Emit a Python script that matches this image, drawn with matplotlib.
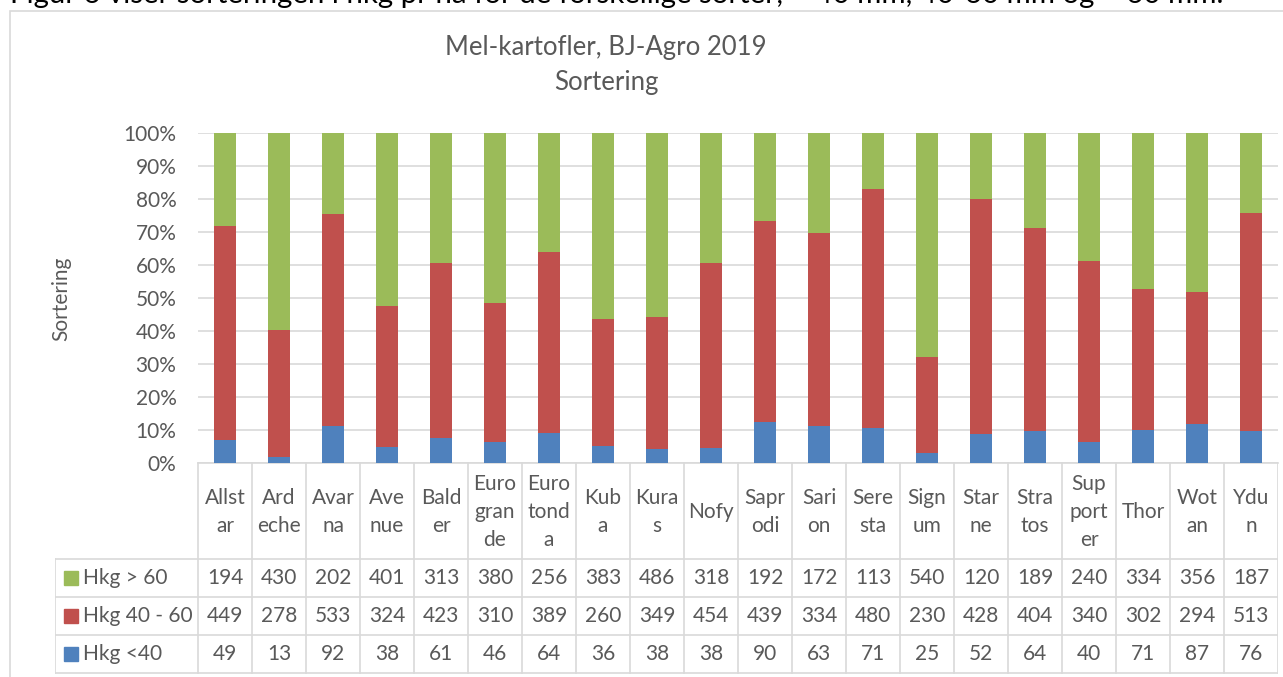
import numpy as np
import matplotlib
matplotlib.use("Agg")
import matplotlib.pyplot as plt
from matplotlib.patches import Rectangle
from matplotlib.lines import Line2D
from matplotlib.ticker import PercentFormatter

plt.rcParams['font.family'] = ['Lato', 'DejaVu Sans']

# ---- data ----
labels = ["Allst\nar", "Ard\neche", "Avar\nna", "Ave\nnue", "Bald\ner", "Euro\ngran\nde",
          "Euro\ntond\na", "Kub\na", "Kura\ns", "Nofy", "Sapr\nodi", "Sari\non", "Sere\nsta",
          "Sign\num", "Star\nne", "Stra\ntos", "Sup\nport\ner", "Thor", "Wot\nan", "Ydu\nn"]
hkg_gt60 = [194, 430, 202, 401, 313, 380, 256, 383, 486, 318, 192, 172, 113, 540, 120, 189, 240, 334, 356, 187]
hkg_40_60 = [449, 278, 533, 324, 423, 310, 389, 260, 349, 454, 439, 334, 480, 230, 428, 404, 340, 302, 294, 513]
hkg_lt40 = [49, 13, 92, 38, 61, 46, 64, 36, 38, 38, 90, 63, 71, 25, 52, 64, 40, 71, 87, 76]
series_names = ["Hkg > 60", "Hkg 40 - 60", "Hkg <40"]
colors = ["#9BBB59", "#C0504D", "#4F81BD"]
caption = "Figur 6 viser sorteringen i hkg pr ha for de forskellige sorter; < 40 mm, 40-60 mm og > 60 mm."

W, H = 1283, 677
fig = plt.figure(figsize=(W / 100, H / 100), dpi=100)
TXT = "#595959"
GRID = "#D9D9D9"
FS = 15

# caption line (cut off at top, as in the source)
cap = fig.text(10 / W, 1 - 3 / H, caption, fontsize=19, color="black", ha="left", va="baseline")
fig.canvas.draw()
bb = cap.get_window_extent(renderer=fig.canvas.get_renderer())
cap.set_fontsize(19 * (1223 - 10) / bb.width)

# chart border
fig.patches.append(Rectangle((10 / W, -0.01), 1.2, 1 - 11 / H + 0.01, transform=fig.transFigure,
                             fill=False, edgecolor=GRID, lw=1.2))

# ---- bars ----
x0, x1, ytop, ybot = 198, 1278, 133, 463
ax = fig.add_axes([x0 / W, 1 - ybot / H, (x1 - x0) / W, (ybot - ytop) / H])
lo = np.array(hkg_lt40, float)
mid = np.array(hkg_40_60, float)
hi = np.array(hkg_gt60, float)
tot = lo + mid + hi
x = np.arange(len(labels))
bw = 0.40
ax.bar(x, lo / tot, bw, color=colors[2], zorder=3)
ax.bar(x, mid / tot, bw, bottom=lo / tot, color=colors[1], zorder=3)
ax.bar(x, hi / tot, bw, bottom=(lo + mid) / tot, color=colors[0], zorder=3)
ax.set_xlim(-0.5, len(labels) - 0.5)
ax.set_ylim(0, 1)
ax.set_yticks(np.linspace(0, 1, 11))
ax.yaxis.set_major_formatter(PercentFormatter(1.0, decimals=0))
ax.tick_params(axis='y', length=0, labelsize=FS, labelcolor=TXT, pad=15.5)
ax.set_xticks([])
ax.grid(axis='y', color=GRID, lw=1.2, zorder=0)
for s in ["top", "right", "left"]:
    ax.spines[s].set_visible(False)
ax.spines["bottom"].set_color(GRID)
ax.spines["bottom"].set_linewidth(1.2)

fig.text(61 / W, 1 - 299 / H, "Sortering", fontsize=FS, color=TXT, ha="center", va="center",
         rotation=90)
fig.text(606 / W, 1 - 55 / H, "Mel-kartofler, BJ-Agro 2019", fontsize=18.5, color=TXT,
         ha="center", va="baseline")
fig.text(606 / W, 1 - 90 / H, "Sortering", fontsize=18.5, color=TXT, ha="center", va="baseline")

# ---- data table ----
tl = 55
cw = (x1 - x0) / len(labels)
xl = -0.5 - (x0 - tl) / cw
tax = fig.add_axes([tl / W, 0, (x1 - tl) / W, 1], facecolor="none")
tax.set_xlim(xl, len(labels) - 0.5)
tax.set_ylim(H, 0)
tax.axis("off")
rows = [463, 559, 597, 635, 673]
for i in range(len(labels) + 1):
    tax.add_line(Line2D([i - 0.5, i - 0.5], [rows[0], rows[-1]], color=GRID, lw=1.2))
for r in rows[1:]:
    tax.add_line(Line2D([xl, len(labels) - 0.5], [r, r], color=GRID, lw=1.2))
tax.add_line(Line2D([xl, xl], [rows[1], rows[-1]], color=GRID, lw=1.2))

for i, lab in enumerate(labels):
    tax.text(i, (rows[0] + rows[1]) / 2 + 1, lab, ha="center", va="center", fontsize=FS,
             color=TXT, linespacing=1.5)
table_rows = [hkg_gt60, hkg_40_60, hkg_lt40]
for r, (vals, name, c) in enumerate(zip(table_rows, series_names, colors)):
    yc = (rows[r + 1] + rows[r + 2]) / 2
    for i, v in enumerate(vals):
        tax.text(i, yc, str(v), ha="center", va="center", fontsize=FS, color=TXT)
    lx = xl + 9 / cw
    tax.add_patch(Rectangle((lx, yc - 7), 14 / cw, 14, color=c))
    tax.text(lx + 19 / cw, yc, name, ha="left", va="center", fontsize=FS, color=TXT)

fig.savefig("out.png", dpi=100)
